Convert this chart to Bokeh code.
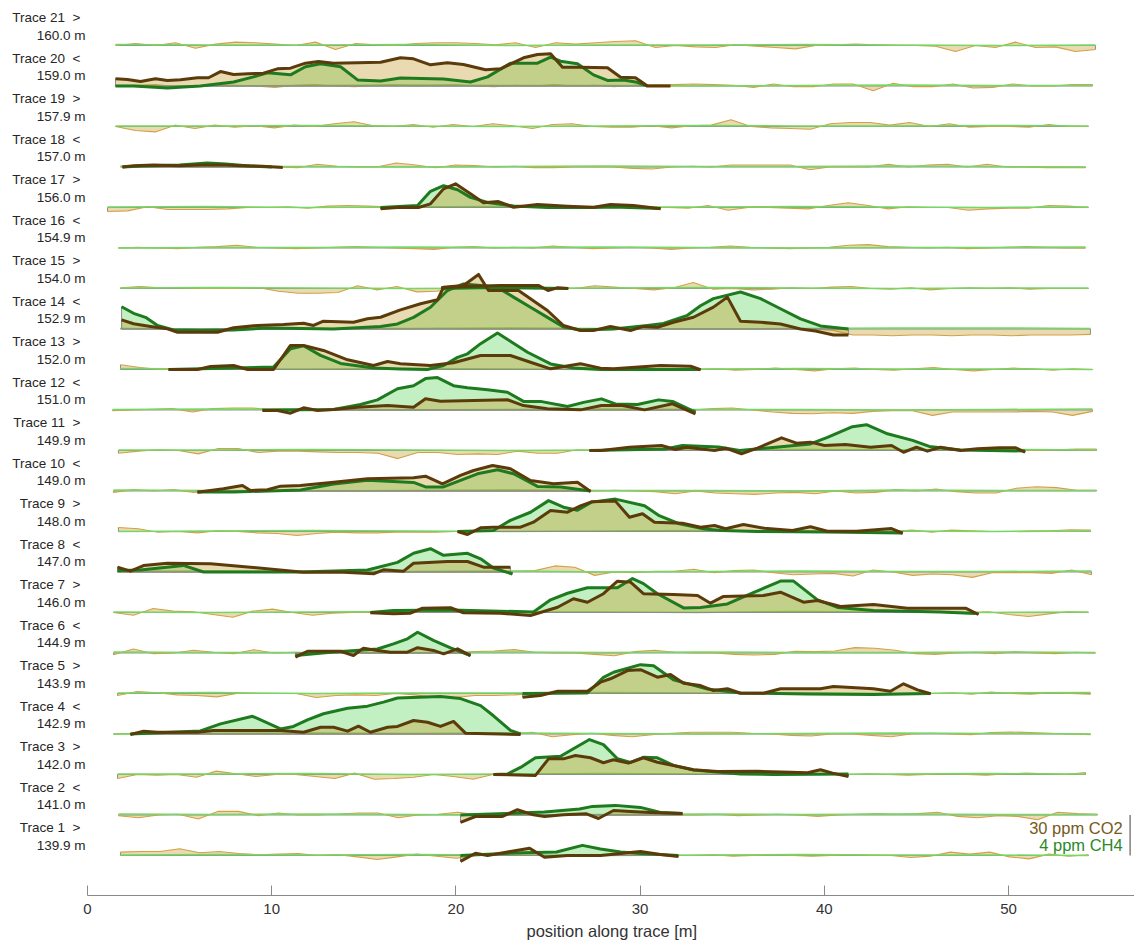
import numpy as np
from bokeh.plotting import figure
from bokeh.models import Range1d, FixedTicker, Title
from bokeh.embed import file_html
from bokeh.resources import INLINE
from bokeh.core.properties import value

# ---------------- data ----------------
TRACE_NUM = [1, 2, 3, 4, 5, 6, 7, 8, 9, 10, 11, 12, 13, 14, 15, 16, 17, 18, 19, 20, 21]
TRACE_DIR = [">", "<", ">", "<", ">", "<", ">", "<", ">", "<", ">", "<", ">", "<", ">", "<", ">", "<", ">", "<", ">"]
TRACE_POS_M = [139.9, 141.0, 142.0, 142.9, 143.9, 144.9, 146.0, 147.0, 148.0, 149.0, 149.9,
               151.0, 152.0, 152.9, 154.0, 154.9, 156.0, 157.0, 157.9, 159.0, 160.0]
BG_START = [1.79, 1.68, 1.63, 1.41, 1.63, 1.41, 1.41, 1.63, 1.68, 1.41, 1.68, 1.36, 1.79, 1.79,
            1.79, 1.68, 1.09, 1.79, 1.52, 1.52, 1.52]
BG_END = [54.34, 54.83, 54.18, 54.45, 54.45, 54.72, 54.34, 54.51, 54.45, 54.78, 54.78, 54.56,
          54.56, 54.45, 54.34, 54.18, 54.34, 54.18, 54.34, 54.56, 54.72]
X_TICKS = [0, 10, 20, 30, 40, 50]
CO2_SCALE_PPM = 30.0   # ppm CO2 per trace spacing
CH4_SCALE_PPM = 4.0    # ppm CH4 per trace spacing

# background CO2 anomaly (ppm), evenly sampled between BG_START and BG_END
BG1 = [2.5, 3, 3, 5, 2, 3, 1.5, 0.5, 1, 1.5, 0, 0.5, -1, -3, -1, 1, -0.5, -2,
       0, 0, 0, 0, 0, 0, 0, 0, 0, 0, 0,
       0, 0.5, -0.5, 0, 0.5, 0, -0.5, 0, 0.5, 0, 0, -1.5, -0.5, 2.5, 1, 2.5, -1, -2.5, 1, -0.5, 0.5]
BG2 = [-0.5, -2, 0, 0.5, -3, 2.7, 2.7, -0.5, 1.5, 0, 0, 0.7, 1.5, 1.5, -2, 0, 0.5, 2,
       0, 0, 0, 0, 0, 0, 0, 0, 0, 0, 0,
       0, 0.5, -0.5, 0, 0.5, 0, -1, 0, 0.5, 1, 0.5, 1, 2, -1, -2, -0.5, -1, -3.5, 2, 1, 0.5]
BG3 = [-3, 0, -0.5, 0, -2, 2.5, 0.5, -1.5, 0, 0, -1.5, -3, 1, -3.5, -3, -2, 0, -1.5, -3.5, 0,
       0, 0, 0, 0, 0, 0, 0, 0, 0, 0, 0, 0, 0, 0, 0, 0, 0, 0,
       0.5, 0, -0.5, 0, 0.5, 0, -0.5, 0.5, 1, 0.5, 0, 1.5]
BG4 = [0, 0.5, 0, 0, 0, 0, 0, 0, 0, 0, 0, 0, 0, 0, 0, 0, 0, 0, 0, 0, 0,
       1.3, -2, -0.5, 0.5, -1, -2, -0.5, 0.5, 1.3, 1.3, 1.3, 0.5, 0, -1, -1.5, 0, 0, -1, -2,
       0, 0.5, 0, -0.5, 1, 1.5, 1, 0.5, 0, -0.5]
BG5 = [-1.5, 1.5, 0.5, -1, -1.5, -2.5, 0, 0, 0, 0, -3, -1.5, -1, -1.5, 0, -1, -3, -3, -1.5, -1.5, -1,
       0, 0, 0, 0, 0, 0, 0, 0, 0, 0, 0, 0, 0, 0, 0, 0, 0, 0, 0, 0,
       0, 0.5, -0.5, 1, 0, -0.5, 0.5, 0, -0.5]
BG6 = [-1.3, 3, -0.5, 0, 2, 0.5, -0.5, 2.4, 0, 0.5,
       0, 0, 0, 0, 0, 0, 0, 0, 1, 1.5,
       2.5, 0.5, 0, 0, -1, -2, 1, 2, 0.5, 0,
       0, -1, -1.5, -1, 1.3, 1, 1.5, 4, 3.5, 2,
       -0.5, -1, 0, 0.5, -0.5, 1, 0, -0.5, 0.5, 0]
BG7 = [0, -2, 3, 1, 0.5, -1.5, -3.5, 1, 2.5, 0, -2, -0.5, 0,
       0, 0, 0, 0, 0, 0, 0, 0, 0, 0, 0, 0, 0, 0, 0, 0, 0, 0, 0, 0, 0, 0, 0, 0, 0, 0, 0, 0, 0, 0, 0,
       0.5, -1.5, -3, -1, 0.5, 0]
BG8 = [0, 0, 0.5, 0, 0, 0, 0, 0, 0, 0, 0, 0, 0, 0, 0, 0, 0, 0, 0, 0, 0.5,
       1, 4.5, 3.5, -2.5, 0, -0.5, 0.5, 0.5, 2, -0.5, 1, 1.5, -0.5, -2, -1.5, -1, -3, 1.5, 0,
       -2.5, -1.5, -2, -4, -0.5, -0.5, -0.5, -1, 1.5, -2]
BG9 = [3, 2, -0.5, 0, -1, 0.5, 0, -1, -1.5, -3, -1.5, -0.5, -1, -1, -0.5, -0.5, -0.5, 0,
       0, 0, 0, 0, 0, 0, 0, 0, 0, 0, 0, 0, 0, 0, 0, 0, 0, 0, 0, 0, 0, 0,
       1, -0.5, 1, 0.5, 0, 0, 0.5, 0.5, 1.3, 1]
BG10 = [-1, 1, 0, 1, -1,
        0, 0, 0, 0, 0, 0, 0, 0, 0, 0, 0, 0, 0, 0, 0, 0, 0, 0, 0,
        0, 0.5, 0, -0.5, -2, 0, -1.5, -2, -2.5, -1.5, -1, -2, 0, -1.5, -1, 1, 0, 1.5, -0.5,
        -1.5, -1.5, 2, 3.2, 2.5, 0.5, 0.5]
BG11 = [-2, -0.5, 0.5, 0, -2.5, 1.5, 1.5, -1.5, -0.5, -0.5, -1, -1.5, -1.5, -2, -6, -1.5, -1.5,
        -3, -2.5, -3, -0.5, -2, -2, 0.5,
        0, 0, 0, 0, 0, 0, 0, 0, 0, 0, 0, 0, 0, 0, 0, 0, 0, 0, 0, 0, 0, 0, 0,
        0.5, 1, 1]
BG12 = [-0.5, 0, 0.5, 1, -1.5, 1, 1.5, 1.5,
        0, 0, 0, 0, 0, 0, 0, 0, 0, 0, 0, 0, 0, 0, 0, 0, 0, 0, 0, 0, 0, 0,
        1, 1.5, 0, -1.5, -2.5, -2.8, -2, -2.5, -1, -0.5,
        -0.5, -4, -1.5, -1.5, -1.5, -1.5, -1, -1.5, -4, -1]
BG13 = [3.5, 1.5, 0, 0, 0, 0, 0, 0, 0, 0,
        0, 0, 0, 0, 0, 0, 0, 0, 0, 0,
        0, 0, 0, 0, 0, 0, 0, 0, 0, 0,
        0.5, -0.5, 0, 1, 0, -1, 0.5, 1, 0, -0.5,
        0.5, 1.5, 0, -1, 0, 1, 0.5, -0.5, 0.5, 0]
BG14 = [0.5, 0, 0.5, 0, -0.5, 0, 0.5, 0, 0, 0.5,
        0, 0, 0.5, 0, 0, 0, 0.5, 0, 0, 0,
        0, 0, 0, 0, 0, 0, 0, 0, 0, 0,
        0, 0, 0, 0, 0, 0, -1, -4.5, -4.5, -5,
        -4.5, -4.5, -5, -4.5, -4.5, -5, -4.5, -4.5, -4.5, -4]
BG15 = [0.5, 1.5, 0.5, 0.5, 0, 0, 0, 0.5, -2, -3.5,
        -3.5, -3, 2, -1, 1.5, -2.5, -2, 0, 0, 0,
        0, 0, 0, 0, 2, 1, 0, -1, 0.5, 4.5,
        -0.5, 0, -1, -0.5, 0.5, 0, 1, 1.5, 0, -0.5,
        0.5, -1, 0, 0.5, 0, 0.5, -0.5, 0, 0, 0]
BG16 = [0, 0.5, 0, -0.5, 0.5, 1, 2, 0.5, 0, -0.5,
        0, 0.5, 1, 0.5, 0, -0.5, -1, 0.5, 1, 0,
        0.5, 0, 1.5, 0.5, -0.5, 0, 0.5, 0, -1, 0,
        0.5, 1.5, 0.5, 0, -0.5, 0, 0.5, 2, 2.5, 1,
        0.5, 0, 0.5, -0.5, 0, 0.5, 1, 0.5, 0, 0]
BG17 = [-3, -2.5, 0.5, -1.5, -1.5, -1.5, -1, 0, 0, 0.5,
        -0.5, 1, 1.5, 1, 0.5, 0, 0.5, 0, 0.5, 0,
        0.5, 0, 0.5, 0, 0.5, 0, 0, 0, 0, -0.5,
        1.5, -2, 0, 0, -0.5, -1, 1.5, 3.5, 1.5, -1,
        0.5, 0, 0, -2, -1, -0.5, -0.5, 1.5, 1, 0]
BG18 = [0, 0.5, 0, 0.5, 0, 0.5, 0, 0, 0, -0.5,
        2, 0.5, 0, 0, 3, 1.5, -0.5, 1.5, 1, 0,
        0.5, -0.5, -0.5, 0, 0, 0, -1, -1.5, 0, 0.5,
        0, 1.5, 1.5, 1.5, 1.5, -2, 0, 0, 0, 2,
        0, 1.5, 2, 0, 2, 0, 0, -0.5, -0.5, -0.5]
BG19 = [0, -3, -4, 1, -1.5, 1, -0.5, 0.5, -1, 1,
        0, 2, 3.5, 0.5, 0, 1.5, -0.5, 1.5, 0, 2,
        0.5, -1.5, 1.5, 2, 0, -0.5, -0.5, 0.5, -1, 0.5,
        1, 5, 0, -1, -1.5, -2, 2, 3, 3, 1,
        3, 0, 2, -0.5, 0, 0, -0.5, 1.5, 0, 0]
BG20 = [0, 0.5, 1, -0.5, 0, 1, 0.5, 0, -1, 0.5,
        1, 0, -0.5, 0.5, 1, 0, 0.5, 1, 0, -0.5,
        0.5, 0, 1, 0, 0.5, -0.5, 0.5, 1, 1, 1.5,
        1, 0.5, -1, 1.5, -0.5, -0.5, 1.5, 1.5, -3.5, 2,
        -0.5, -0.5, 1.5, -1.5, -1, 1.5, 0, 0, 1, 1]
BG21 = [0, 1.5, 0, 2, -2, 1, 2.5, 2, 1, 0,
        2.5, -3, 1.5, 0.5, 0, 1.5, 2, 2, 1.5, 0.5,
        2, -1.5, 2, 1, 2, 3, 3.5, -1.5, 0, -1,
        -1.5, 0.5, -0.5, -1.5, -2.5, 0, 0.5, 1, 0.5, 0,
        0, -0.5, -4.5, 0, -1.5, 2.5, -1.5, -1, -4.5, -3]

# background CH4 anomaly (ppm), coarse samples
CH4BG1 = [0.05, 0.1, 0.05, 0.1, 0.05, 0.0, 0.05, 0.1, 0.05, 0.05, 0.0]
CH4BG2 = [0.1, 0.05, 0.1, 0.05, 0.0, 0.05, 0.1, 0.05, 0.1, 0.05, 0.05]
CH4BG3 = [0.05, 0.05, 0.1, 0.0, 0.05, 0.1, 0.05, 0.0, 0.05, 0.1, 0.05]
CH4BG4 = [0.0, 0.05, 0.1, 0.05, 0.1, 0.05, 0.0, 0.05, 0.1, 0.05, 0.0]
CH4BG5 = [0.05, 0.1, 0.0, 0.05, 0.05, 0.1, 0.05, 0.05, 0.0, 0.05, 0.1]
CH4BG6 = [0.1, 0.05, 0.05, 0.0, 0.1, 0.05, 0.1, 0.05, 0.05, 0.1, 0.05]
CH4BG7 = [0.05, 0.0, 0.05, 0.1, 0.05, 0.05, 0.0, 0.1, 0.05, 0.0, 0.05]
CH4BG8 = [0.05, 0.1, 0.05, 0.05, 0.1, 0.0, 0.05, 0.1, 0.05, 0.05, 0.1]
CH4BG9 = [0.0, 0.05, 0.1, 0.05, 0.0, 0.05, 0.1, 0.05, 0.05, 0.0, 0.05]
CH4BG10 = [0.1, 0.05, 0.0, 0.05, 0.1, 0.05, 0.05, 0.0, 0.1, 0.05, 0.05]
CH4BG11 = [0.05, 0.05, 0.1, 0.05, 0.0, 0.05, 0.05, 0.1, 0.05, 0.1, 0.05]
CH4BG12 = [0.05, 0.1, 0.05, 0.0, 0.05, 0.1, 0.05, 0.05, 0.0, 0.05, 0.1]
CH4BG13 = [0.1, 0.05, 0.05, 0.1, 0.05, 0.0, 0.05, 0.1, 0.05, 0.05, 0.0]
CH4BG14 = [0.05, 0.0, 0.05, 0.05, 0.1, 0.05, 0.0, 0.05, 0.1, 0.1, 0.05]
CH4BG15 = [0.05, 0.1, 0.05, 0.0, 0.05, 0.05, 0.1, 0.05, 0.0, 0.05, 0.05]
CH4BG16 = [0.0, 0.05, 0.05, 0.1, 0.05, 0.1, 0.05, 0.0, 0.05, 0.05, 0.1]
CH4BG17 = [0.05, 0.1, 0.0, 0.05, 0.1, 0.05, 0.05, 0.1, 0.05, 0.0, 0.05]
CH4BG18 = [0.1, 0.05, 0.05, 0.0, 0.05, 0.1, 0.05, 0.05, 0.1, 0.05, 0.0]
CH4BG19 = [0.05, 0.05, 0.1, 0.05, 0.0, 0.05, 0.1, 0.05, 0.05, 0.1, 0.05]
CH4BG20 = [0.05, 0.0, 0.05, 0.1, 0.05, 0.05, 0.0, 0.05, 0.1, 0.05, 0.05]
CH4BG21 = [0.1, 0.05, 0.05, 0.1, 0.0, 0.05, 0.05, 0.1, 0.05, 0.0, 0.05]

# highlighted survey segments: positions (m) and anomalies (ppm)
T20_CO2_X = [1.52, 2.17, 2.88, 3.69, 4.34, 5.05, 5.97, 6.57, 7.22, 7.93, 8.74, 9.55, 10.31, 11.02, 11.83,
             12.54, 13.36, 15.91, 16.99, 17.70, 18.62, 19.54, 20.41, 21.61, 22.42, 23.67, 24.43, 25.14,
             25.79, 26.76, 28.23, 28.94, 29.75, 30.40, 31.65]
T20_CO2 = [5.3, 4.8, 3.3, 5.3, 4.1, 4.6, 6.1, 6.1, 10.7, 8.5, 9.0, 9.5, 12.7, 13.2, 16.9, 18.1, 16.9, 17.6,
           20.9, 20.1, 15.7, 17.2, 15.9, 12.0, 12.7, 20.9, 23.3, 23.8, 13.9, 13.9, 13.5, 6.5, 6.1, 0.0, 0.0]
T20_CH4_X = [1.52, 2.50, 4.34, 6.13, 7.93, 9.01, 9.77, 11.02, 11.83, 12.65, 13.74, 14.66, 15.91, 16.99,
             19.33, 20.79, 21.72, 22.96, 24.43, 25.14, 25.68, 26.60, 27.47, 28.23, 29.10, 29.75, 30.40]
T20_CH4 = [0.0, 0.0, -0.2, 0.0, 0.4, 0.9, 1.3, 1.1, 1.9, 2.2, 1.9, 0.6, 0.5, 0.8, 0.7, 0.4, 0.9, 2.25,
           2.25, 2.85, 2.45, 2.2, 1.1, 0.55, 0.6, 0.4, 0.0]

T18_CO2_X = [1.9, 2.5, 3.6, 5.0, 6.1, 7.5, 8.3, 9.5, 10.6]
T18_CO2 = [0.0, 1.0, 1.5, 1.0, 1.5, 1.5, 1.0, 0.5, -0.3]
T18_CH4_X = [1.9, 3.0, 5.0, 6.5, 7.5, 8.8, 10.0]
T18_CH4 = [0.0, 0.1, 0.2, 0.4, 0.3, 0.1, 0.0]

T17_CO2_X = [15.91, 16.99, 17.97, 18.62, 19.33, 19.98, 20.79, 21.50, 22.31, 23.13, 24.43, 26.06, 27.47,
             28.39, 29.64, 31.11]
T17_CO2 = [-1.0, 0.2, 0.0, 2.7, 13.8, 17.5, 10.1, 3.5, 4.4, 0.2, 2.2, 1.0, 0.2, 2.2, 1.5, -1.0]
T17_CH4_X = [15.91, 17.92, 18.62, 19.33, 20.09, 20.79, 21.72, 23.13, 24.97, 27.47, 28.56, 31.11]
T17_CH4 = [0.0, 0.2, 1.6, 2.15, 1.75, 1.0, 0.5, 0.15, 0.0, 0.0, 0.05, -0.1]

T15_CO2_X = [19.2, 20.5, 22.4, 24.5, 25.0, 25.5, 26.1]
T15_CO2 = [0.5, 1.5, 2.2, 2.2, -1.5, 0.5, 0.0]
T15_CH4_X = [19.2, 22.0, 26.1]
T15_CH4 = [0.0, 0.1, 0.0]

T14_CO2_X = [1.85, 2.50, 3.42, 4.34, 4.89, 7.06, 7.93, 9.23, 10.64, 11.73, 12.27, 12.81, 14.44, 15.20,
             15.91, 16.99, 18.08, 19.00, 19.33, 20.41, 21.23, 21.77, 23.40, 24.97, 25.84, 26.76, 27.47,
             28.39, 29.48, 30.18, 30.94, 31.81, 32.90, 33.98, 34.74, 35.45, 36.54, 37.62, 38.71, 39.52,
             40.50, 41.31]
T14_CO2 = [6.8, 3.9, 1.9, 0.1, -2.4, -2.4, 0.9, 2.6, 3.3, 4.3, 2.6, 5.8, 5.0, 7.6, 8.7, 14.2, 18.7, 21.6,
           31.0, 32.2, 40.4, 28.5, 28.5, 13.7, 2.6, -1.1, -1.1, 1.9, -1.1, 1.9, 1.3, 5.0, 8.7, 16.2, 23.6,
           5.8, 5.0, 3.7, 0.0, -1.5, -4.4, -4.4]
T14_CH4_X = [1.85, 2.50, 3.15, 3.80, 4.67, 6.13, 7.93, 9.77, 13.36, 15.91, 16.83, 17.70, 18.62, 19.54,
             20.41, 21.34, 22.26, 23.13, 24.05, 24.97, 25.84, 26.76, 28.56, 30.40, 31.27, 32.57, 33.28,
             33.98, 35.45, 36.54, 37.62, 38.71, 39.79, 41.31]
T14_CH4 = [2.2, 1.55, 1.15, 0.35, -0.1, -0.15, -0.1, 0.1, 0.0, 0.25, 0.5, 1.15, 2.15, 3.8, 4.45, 4.3, 4.1,
           3.15, 2.15, 1.15, 0.2, -0.1, 0.0, 0.35, 0.55, 1.35, 2.3, 3.0, 3.65, 3.0, 2.0, 1.0, 0.3, 0.0]

T13_CO2_X = [4.40, 5.97, 6.68, 7.93, 8.69, 10.10, 11.02, 11.73, 12.81, 14.12, 15.53, 16.29, 16.99, 18.62,
             19.87, 21.34, 22.96, 24.05, 25.14, 26.76, 27.85, 28.56, 31.11, 32.74, 33.28]
T13_CO2 = [0.0, 0.0, 2.2, 3.0, 0.0, 0.0, 17.8, 17.8, 14.1, 7.2, 3.0, 5.9, 4.2, 3.0, 5.0, 10.4, 10.4, 5.4,
           0.5, 4.2, 1.0, 0.5, 3.0, 2.4, -0.2]
T13_CH4_X = [4.40, 10.10, 11.02, 11.73, 12.65, 13.74, 15.53, 16.99, 18.46, 19.33, 20.09, 20.63, 21.34,
             22.26, 23.89, 25.14, 26.38, 27.85, 33.28]
T13_CH4 = [0.0, 0.25, 2.05, 2.35, 1.4, 0.6, 0.15, 0.05, 0.0, 0.4, 1.2, 1.55, 2.55, 3.6, 1.7, 0.55, 0.15,
           0.0, 0.0]

T12_CO2_X = [9.50, 10.31, 11.02, 11.73, 12.49, 13.36, 14.66, 16.29, 17.70, 18.35, 19.16, 22.80, 23.67,
             24.97, 26.76, 27.90, 29.04, 30.24, 31.76, 33.0]
T12_CO2 = [-0.4, -0.4, -2.4, 1.6, -0.4, 0.4, 2.1, 3.3, 2.1, 8.3, 6.5, 7.6, 3.3, 0.9, 0.1, 3.3, 3.3, 0.1,
           4.6, -2.8]
T12_CH4_X = [9.50, 13.36, 14.82, 15.74, 16.83, 17.70, 18.35, 19.00, 19.87, 20.63, 21.72, 22.80, 23.67,
             24.59, 26.06, 26.93, 27.90, 28.66, 29.86, 31.0, 31.76, 33.0]
T12_CH4 = [0.0, 0.05, 0.55, 1.0, 2.1, 2.4, 3.1, 3.2, 2.4, 2.2, 2.0, 1.75, 0.85, 0.85, 0.35, 0.75, 1.1,
           0.6, 0.55, 1.0, 0.85, -0.2]

T11_CO2_X = [27.25, 27.9, 29.42, 31.16, 31.92, 32.52, 34.04, 34.64, 35.5, 36.37, 37.68, 38.49, 39.25,
             40.01, 41.15, 42.51, 43.65, 44.3, 45.0, 45.6, 46.3, 47.4, 48.3, 49.5, 50.4, 50.9]
T11_CO2 = [0.0, 0.0, 2.4, 3.7, 0.7, 2.4, 0.0, 1.7, -2.4, 1.7, 9.4, 5.4, 6.2, 3.7, 4.4, 2.4, 3.7, -1.3,
           2.4, -0.5, 2.4, 0.0, 1.3, 2.0, 2.0, -1.3]
T11_CH4_X = [27.25, 31.38, 32.3, 34.26, 35.4, 37.51, 39.25, 40.17, 41.53, 42.29, 43.43, 44.79, 45.7,
             47.4, 50.9]
T11_CH4 = [0.0, 0.15, 0.5, 0.35, 0.0, 0.35, 0.65, 1.3, 2.35, 2.55, 1.65, 1.0, 0.4, 0.05, -0.05]

T10_CO2_X = [5.97, 7.38, 8.41, 8.85, 9.77, 10.48, 11.56, 13.36, 15.20, 17.70, 18.35, 19.27, 20.25, 20.96,
             21.99, 22.96, 24.05, 25.30, 26.60, 27.31]
T10_CO2 = [-0.9, 1.6, 4.1, 0.4, 0.9, 3.6, 4.1, 6.5, 9.0, 9.8, 11.0, 5.3, 11.5, 15.2, 18.9, 16.5, 7.8, 5.3,
           6.5, -0.4]
T10_CH4_X = [5.97, 7.93, 11.56, 13.36, 15.20, 17.70, 18.35, 19.33, 20.25, 21.17, 22.26, 23.13, 24.43,
             25.68, 27.31]
T10_CH4 = [-0.1, -0.1, 0.1, 0.7, 1.05, 0.85, 0.4, 0.4, 1.05, 1.7, 2.1, 1.7, 0.45, 0.4, 0.0]

T9_CO2_X = [20.09, 20.63, 21.34, 22.04, 23.51, 24.21, 25.14, 26.06, 26.76, 27.36, 28.66, 29.42, 30.13,
            30.78, 32.3, 33.28, 34.04, 34.64, 35.61, 36.75, 38.27, 39.25, 40.17, 41.75, 43.65, 44.25]
T9_CO2 = [0.0, -2.2, 2.7, 3.2, 3.2, 6.9, 15.6, 14.3, 19.0, 22.0, 22.5, 10.6, 13.1, 6.9, 6.2, 3.2, 4.4,
          2.0, 5.2, 2.4, 0.7, 3.5, 0.2, 0.2, 2.2, -1.3]
T9_CH4_X = [20.09, 22.04, 22.96, 24.05, 25.03, 25.84, 26.60, 27.36, 28.66, 30.24, 31.0, 32.14, 33.5,
            34.42, 36.37, 40.17, 44.25]
T9_CH4 = [0.0, 0.1, 1.1, 1.9, 3.05, 2.4, 2.1, 2.9, 3.2, 2.55, 1.6, 0.75, 0.25, 0.1, 0.0, -0.05, -0.15]

T8_CO2_X = [1.63, 2.33, 3.04, 4.34, 6.68, 8.85, 11.73, 13.90, 15.53, 16.07, 17.16, 17.70, 19.54, 20.63,
            21.50, 22.96]
T8_CO2 = [3.6, 0.6, 4.8, 6.5, 6.1, 3.6, -0.1, -0.1, -1.3, 1.6, 0.6, 6.5, 7.8, 7.8, 3.6, 3.6]
T8_CH4_X = [1.63, 2.88, 5.21, 6.30, 11.56, 15.20, 16.83, 17.70, 18.62, 19.33, 20.63, 21.34, 22.04, 23.07]
T8_CH4 = [0.15, 0.2, 0.65, 0.0, 0.0, 0.2, 0.95, 1.85, 2.3, 1.65, 1.85, 1.3, 0.4, -0.2]

T7_CO2_X = [15.36, 16.61, 17.54, 18.19, 19.71, 20.41, 22.42, 24.05, 25.52, 26.38, 27.14, 28.01, 28.77,
            29.48, 30.18, 31.81, 33.12, 33.82, 34.53, 36.70, 37.62, 38.87, 39.63, 40.88, 42.67, 44.52,
            47.67, 48.37]
T7_CO2 = [-0.2, -1.0, -0.5, 3.2, 3.5, -0.2, -0.5, -2.2, 3.9, 10.2, 7.6, 13.9, 23.2, 22.5, 13.9, 13.3,
          12.6, 6.9, 11.9, 12.6, 15.0, 7.6, 8.9, 4.4, 5.9, 3.2, 3.2, -1.5]
T7_CH4_X = [15.36, 16.61, 19.71, 24.21, 25.14, 26.06, 27.14, 28.77, 29.59, 30.18, 30.94, 32.36, 33.28,
            34.74, 35.99, 37.62, 38.33, 39.63, 40.72, 42.67, 46.31, 48.21]
T7_CH4 = [0.0, 0.2, 0.25, 0.05, 1.25, 1.9, 2.45, 2.45, 3.35, 2.85, 1.85, 0.45, 0.5, 0.85, 1.85, 3.1, 3.1,
          1.25, 0.5, 0.2, 0.05, -0.1]

T6_CO2_X = [11.29, 11.94, 13.74, 14.44, 14.98, 15.74, 16.45, 17.37, 17.92, 18.78, 19.33, 20.09, 20.79]
T6_CO2 = [-3.1, 1.3, 1.3, -1.9, 3.6, 1.9, 0.6, 0.6, 3.9, 1.9, -0.6, 3.1, -1.9]
T6_CH4_X = [11.29, 13.36, 15.74, 16.61, 17.37, 17.92, 18.78, 19.71, 20.79]
T6_CH4 = [-0.25, 0.1, 0.4, 0.9, 1.4, 2.05, 1.25, 0.5, -0.25]

T5_CO2_X = [23.62, 24.59, 25.52, 27.14, 27.85, 28.39, 29.32, 30.02, 30.94, 31.65, 32.36, 33.28, 33.98,
            34.74, 35.45, 36.70, 37.62, 39.79, 40.50, 42.67, 43.59, 44.30, 45.06, 45.77]
T5_CO2 = [-2.7, -1.5, 1.7, 1.7, 8.4, 10.9, 17.0, 17.6, 12.1, 14.1, 7.6, 5.9, 2.2, 3.5, 0.2, 0.2, 3.5,
          3.5, 5.2, 3.5, 1.7, 7.2, 2.7, -0.2]
T5_CH4_X = [23.62, 27.14, 28.01, 28.56, 30.02, 30.73, 31.81, 33.66, 35.45, 39.09, 42.67, 45.77]
T5_CH4 = [0.0, 0.05, 1.6, 2.1, 2.85, 2.75, 1.35, 0.45, 0.05, -0.05, -0.1, 0.0]

T4_CO2_X = [2.33, 3.04, 3.80, 5.97, 6.84, 10.48, 11.73, 12.65, 13.36, 14.12, 14.71, 15.36, 16.29, 16.83,
            17.70, 18.46, 19.16, 19.87, 20.52, 22.42, 23.51]
T4_CO2 = [-0.4, 2.1, 1.3, 1.3, 2.6, 2.6, 1.3, 5.0, 5.0, 2.1, 5.8, 1.3, 5.0, 5.6, 10.0, 8.7, 5.6, 9.3, 0.6,
          0.0, -0.4]
T4_CH4_X = [2.33, 6.13, 7.22, 8.96, 10.48, 11.18, 11.94, 12.81, 14.12, 15.20, 16.07, 16.83, 19.16, 20.25,
            21.34, 22.04, 22.96, 23.51]
T4_CH4 = [0.0, 0.3, 1.0, 1.75, 0.5, 0.75, 1.4, 2.0, 2.55, 2.75, 3.15, 3.55, 3.7, 3.5, 2.8, 1.8, 0.35, 0.0]

T3_CO2_X = [22.04, 24.32, 25.03, 25.84, 26.49, 27.31, 28.01, 28.56, 29.37, 30.18, 30.94, 31.81, 32.90,
            34.20, 36.37, 38.17, 39.09, 39.79, 40.45, 41.31]
T3_CO2 = [0.0, -0.7, 11.6, 11.6, 14.1, 12.4, 8.7, 10.9, 8.4, 12.4, 9.1, 6.7, 3.5, 2.2, 2.4, 1.7, 1.3, 3.5,
          1.0, -1.5]
T3_CH4_X = [22.04, 22.80, 23.51, 24.32, 25.68, 26.38, 27.25, 28.01, 28.77, 29.48, 30.18, 30.94, 31.81,
            32.90, 35.45, 37.24, 41.31]
T3_CH4 = [0.0, 0.05, 0.7, 1.65, 1.8, 2.55, 3.45, 2.95, 1.55, 1.2, 1.7, 1.65, 0.9, 0.45, 0.05, 0.0, 0.05]

T2_CO2_X = [20.25, 21.06, 22.53, 23.34, 24.21, 24.81, 25.84, 27.09, 27.74, 28.56, 29.48, 30.56, 32.30]
T2_CO2 = [-5.5, -1.1, -1.1, 3.9, 0.1, -1.1, 0.1, 0.9, -2.6, 3.3, 2.6, 1.9, 1.1]
T2_CH4_X = [20.25, 22.75, 24.81, 26.71, 27.42, 28.66, 30.02, 31.11, 32.30]
T2_CH4 = [0.0, 0.15, 0.3, 0.6, 0.85, 0.95, 0.75, 0.25, 0.15]

T1_CO2_X = [20.25, 21.06, 21.72, 22.96, 24.0, 24.81, 26.06, 27.85, 28.94, 30.02, 31.11, 32.08]
T1_CO2 = [-4.4, 1.7, 0.0, 3.0, 5.4, -1.3, 0.0, 0.0, 1.5, 3.0, 0.7, -0.7]
T1_CH4_X = [20.25, 23.13, 25.46, 26.87, 27.85, 28.94, 30.02, 32.08]
T1_CH4 = [0.0, 0.25, 0.35, 1.0, 0.65, 0.35, 0.2, 0.0]

# ---------------- assembly ----------------
BG_CO2 = [BG1, BG2, BG3, BG4, BG5, BG6, BG7, BG8, BG9, BG10, BG11, BG12, BG13, BG14, BG15, BG16,
          BG17, BG18, BG19, BG20, BG21]
BG_CH4 = [CH4BG1, CH4BG2, CH4BG3, CH4BG4, CH4BG5, CH4BG6, CH4BG7, CH4BG8, CH4BG9, CH4BG10, CH4BG11,
          CH4BG12, CH4BG13, CH4BG14, CH4BG15, CH4BG16, CH4BG17, CH4BG18, CH4BG19, CH4BG20, CH4BG21]
THICK = {
    20: (T20_CO2_X, T20_CO2, T20_CH4_X, T20_CH4),
    18: (T18_CO2_X, T18_CO2, T18_CH4_X, T18_CH4),
    17: (T17_CO2_X, T17_CO2, T17_CH4_X, T17_CH4),
    15: (T15_CO2_X, T15_CO2, T15_CH4_X, T15_CH4),
    14: (T14_CO2_X, T14_CO2, T14_CH4_X, T14_CH4),
    13: (T13_CO2_X, T13_CO2, T13_CH4_X, T13_CH4),
    12: (T12_CO2_X, T12_CO2, T12_CH4_X, T12_CH4),
    11: (T11_CO2_X, T11_CO2, T11_CH4_X, T11_CH4),
    10: (T10_CO2_X, T10_CO2, T10_CH4_X, T10_CH4),
    9: (T9_CO2_X, T9_CO2, T9_CH4_X, T9_CH4),
    8: (T8_CO2_X, T8_CO2, T8_CH4_X, T8_CH4),
    7: (T7_CO2_X, T7_CO2, T7_CH4_X, T7_CH4),
    6: (T6_CO2_X, T6_CO2, T6_CH4_X, T6_CH4),
    5: (T5_CO2_X, T5_CO2, T5_CH4_X, T5_CH4),
    4: (T4_CO2_X, T4_CO2, T4_CH4_X, T4_CH4),
    3: (T3_CO2_X, T3_CO2, T3_CH4_X, T3_CH4),
    2: (T2_CO2_X, T2_CO2, T2_CH4_X, T2_CH4),
    1: (T1_CO2_X, T1_CO2, T1_CH4_X, T1_CH4),
}


def curve(xs, vals, base, scale):
    xs = np.asarray(xs, dtype=float)
    ys = base + np.asarray(vals, dtype=float) / scale
    px = np.concatenate([xs, xs[::-1]])
    py = np.concatenate([ys, np.full(len(xs), float(base))])
    return xs, ys, px, py


bg_co2_poly_x, bg_co2_poly_y, bg_co2_lx, bg_co2_ly = [], [], [], []
bg_ch4_poly_x, bg_ch4_poly_y, bg_ch4_lx, bg_ch4_ly = [], [], [], []
base_x, base_y = [], []
for i, k in enumerate(TRACE_NUM):
    xs = np.linspace(BG_START[i], BG_END[i], len(BG_CO2[i]))
    lx, ly, px, py = curve(xs, BG_CO2[i], k, CO2_SCALE_PPM)
    bg_co2_poly_x.append(px); bg_co2_poly_y.append(py)
    bg_co2_lx.append(lx); bg_co2_ly.append(ly)
    base_x.append([lx[0], lx[0], lx[-1], lx[-1]])
    base_y.append([ly[0], k, k, ly[-1]])
    xs4 = np.linspace(BG_START[i], BG_END[i], len(BG_CH4[i]))
    lx, ly, px, py = curve(xs4, BG_CH4[i], k, CH4_SCALE_PPM)
    bg_ch4_poly_x.append(px); bg_ch4_poly_y.append(py)
    bg_ch4_lx.append(lx); bg_ch4_ly.append(ly)

th_co2_px, th_co2_py, th_co2_lx, th_co2_ly = [], [], [], []
th_ch4_px, th_ch4_py, th_ch4_lx, th_ch4_ly = [], [], [], []
for k, (cx, cv, mx, mv) in THICK.items():
    lx, ly, px, py = curve(cx, cv, k, CO2_SCALE_PPM)
    th_co2_px.append(px); th_co2_py.append(py); th_co2_lx.append(lx); th_co2_ly.append(ly)
    lx, ly, px, py = curve(mx, mv, k, CH4_SCALE_PPM)
    th_ch4_px.append(px); th_ch4_py.append(py); th_ch4_lx.append(lx); th_ch4_ly.append(ly)

# ---------------- figure ----------------
p = figure(width=1134, height=945, x_range=Range1d(-4.723, 56.84), y_range=Range1d(0.0123, 22.111),
           toolbar_location=None, output_backend="svg", y_axis_location=None,
           min_border_left=0, min_border_right=0, min_border_top=0, min_border_bottom=50)
p.outline_line_color = None
p.grid.visible = False
p.background_fill_color = "white"
p.border_fill_color = "white"

CO2_FILL = "#c39523"
CH4_FILL = "#34cc34"

# background traces
p.patches(bg_ch4_poly_x, bg_ch4_poly_y, fill_color=CH4_FILL, fill_alpha=0.3, line_color=None)
p.patches(bg_co2_poly_x, bg_co2_poly_y, fill_color=CO2_FILL, fill_alpha=0.35, line_color=None)
p.multi_line(base_x, base_y, line_color="#8c8c8c", line_width=1)
p.multi_line(bg_co2_lx, bg_co2_ly, line_color="#d3a048", line_width=1.1)
p.multi_line(bg_ch4_lx, bg_ch4_ly, line_color="#74d865", line_width=1.5)

# highlighted segments
p.patches(th_ch4_px, th_ch4_py, fill_color=CH4_FILL, fill_alpha=0.3, line_color="#8c8c8c", line_width=1)
p.patches(th_co2_px, th_co2_py, fill_color=CO2_FILL, fill_alpha=0.35, line_color="#8c8c8c", line_width=1)
p.multi_line(th_ch4_lx, th_ch4_ly, line_color="#1e7a1e", line_width=3, line_join="round")
p.multi_line(th_co2_lx, th_co2_ly, line_color="#5c3b0b", line_width=3, line_join="round")

# trace labels
lab1 = [f"Trace {n} \u00a0{d}" for n, d in zip(TRACE_NUM, TRACE_DIR)]
lab2 = [f"{v:.1f} m" for v in TRACE_POS_M]
p.text(x=[-0.38] * len(TRACE_NUM), y=[k + 0.69 for k in TRACE_NUM], text=lab1,
       text_align="right", text_baseline="middle", text_font=value("Liberation Sans"),
       text_font_size="13.5px", text_color="#262626")
p.text(x=[-0.11] * len(TRACE_NUM), y=[k + 0.25 for k in TRACE_NUM], text=lab2,
       text_align="right", text_baseline="middle", text_font=value("Liberation Sans"),
       text_font_size="13.5px", text_color="#262626")

# scale bar: one trace spacing = 30 ppm CO2 = 4 ppm CH4
p.line(x=[56.6, 56.6], y=[1, 2], line_color="#404040", line_width=1)
p.text(x=[56.2], y=[1.69], text=[f"{CO2_SCALE_PPM:.0f} ppm CO2"], text_align="right",
       text_baseline="middle", text_font=value("Liberation Sans"), text_font_size="16.5px",
       text_color="#765a22")
p.text(x=[56.2], y=[1.27], text=[f"{CH4_SCALE_PPM:.0f} ppm CH4"], text_align="right",
       text_baseline="middle", text_font=value("Liberation Sans"), text_font_size="16.5px",
       text_color="#2a8a2a")

# x axis
ax = p.xaxis[0]
ax.ticker = FixedTicker(ticks=X_TICKS)
ax.bounds = (0, 56.84)
ax.major_tick_in = 10
ax.major_tick_out = 0
ax.minor_tick_line_color = None
ax.axis_line_color = "#8a8a8a"
ax.major_tick_line_color = "#8a8a8a"
ax.major_label_text_font = "Liberation Sans"
ax.major_label_text_font_size = "15px"
ax.major_label_text_color = "#333333"
ax.major_label_standoff = 8

# axis title, centred under the plotted axis span (0 .. 57 m)
xtitle = Title(text="position along trace [m]", align="left", offset=526, standoff=6,
               text_font="Liberation Sans", text_font_size="16.5px", text_font_style="normal",
               text_color="#333333")
p.add_layout(xtitle, "below")

open("out.html", "w").write(file_html(p, INLINE))
